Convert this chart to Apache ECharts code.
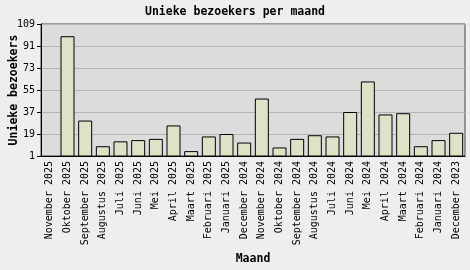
<!DOCTYPE html>
<html>
<head>
<meta charset="utf-8">
<script src="https://cdn.jsdelivr.net/npm/echarts@6/dist/echarts.min.js"></script>
<style>
html,body{margin:0;padding:0;background:#eeeeee;}
#c{width:470px;height:270px;}
</style>
</head>
<body>
<div id="c"></div>
<script>
var categories = ["November 2025","Oktober 2025","September 2025","Augustus 2025","Juli 2025","Juni 2025","Mei 2025","April 2025","Maart 2025","Februari 2025","Januari 2025","December 2024","November 2024","Oktober 2024","September 2024","Augustus 2024","Juli 2024","Juni 2024","Mei 2024","April 2024","Maart 2024","Februari 2024","Januari 2024","December 2023"];
var visitors = [1, 99, 30, 9, 13, 14, 15, 26, 5, 17, 19, 12, 48, 8, 15, 18, 17, 37, 62, 35, 36, 9, 14, 20];
var yTicks = [1, 19, 37, 55, 73, 91, 109];

var font = "'DejaVu Sans Mono', monospace";
var chart = echarts.init(document.getElementById('c'), null, {renderer: 'canvas'});
chart.setOption({
  backgroundColor: '#eeeeee',
  animation: false,
  title: {
    text: 'Unieke bezoekers per maand',
    left: 'center', top: 1,
    textStyle: {fontFamily: font, fontSize: 11.5, fontWeight: 'bold', color: '#000'}
  },
  grid: {
    left: 41, right: 5, top: 24, bottom: 114,
    containLabel: false, outerBoundsMode: 'none',
    show: true, backgroundColor: '#dcdcdc', borderColor: '#444', borderWidth: 1
  },
  xAxis: {
    type: 'category',
    data: categories,
    name: 'Maand',
    nameLocation: 'middle',
    nameGap: 97,
    nameMoveOverlap: false,
    nameTextStyle: {fontFamily: font, fontSize: 11.5, fontWeight: 'bold', color: '#000'},
    axisLine: {lineStyle: {color: '#000', width: 1}},
    axisTick: {alignWithLabel: true, length: 4, lineStyle: {color: '#000'}},
    axisLabel: {rotate: 90, interval: 0, margin: 5, fontFamily: font, fontSize: 10, color: '#000'}
  },
  yAxis: {
    type: 'value',
    min: yTicks[0], max: yTicks[yTicks.length - 1], interval: yTicks[1] - yTicks[0],
    name: 'Unieke bezoekers',
    nameLocation: 'middle',
    nameRotate: 90,
    nameGap: 21,
    nameMoveOverlap: false,
    nameTextStyle: {fontFamily: font, fontSize: 11.5, fontWeight: 'bold', color: '#000'},
    axisLine: {show: true, lineStyle: {color: '#000', width: 1}},
    axisTick: {show: true, length: 4, lineStyle: {color: '#000'}},
    axisLabel: {margin: 6, fontFamily: font, fontSize: 10, color: '#000'},
    splitLine: {lineStyle: {color: '#b4b4b4', width: 1}}
  },
  series: [{
    type: 'bar',
    data: visitors,
    barWidth: 14,
    itemStyle: {color: '#dee3c8', borderColor: '#000', borderWidth: 1}
  }]
});
</script>
</body>
</html>
